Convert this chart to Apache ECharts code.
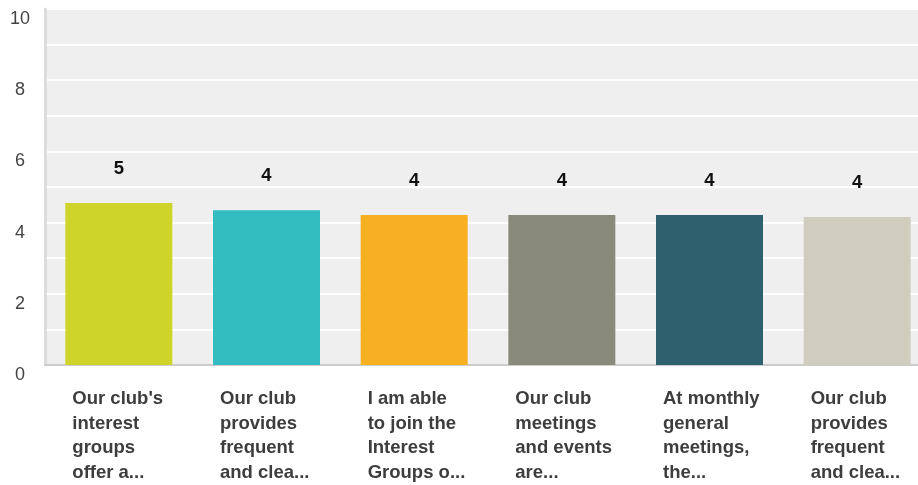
<!DOCTYPE html>
<html>
<head>
<meta charset="utf-8">
<script src="https://cdn.jsdelivr.net/npm/echarts@6/dist/echarts.min.js"></script>
<style>
html,body{margin:0;padding:0;background:#fff;}
#c{width:918px;height:485px;}
</style>
</head>
<body>
<div id="c"></div>
<script>
const categories = [
  "Our club's\ninterest\ngroups\noffer a...",
  "Our club\nprovides\nfrequent\nand clea...",
  "I am able\nto join the\nInterest\nGroups o...",
  "Our club\nmeetings\nand events\nare...",
  "At monthly\ngeneral\nmeetings,\nthe...",
  "Our club\nprovides\nfrequent\nand clea..."
];
const values = [4.55, 4.35, 4.21, 4.21, 4.21, 4.16];
const barColors = ['#cfd42a', '#33bdc0', '#f6b021', '#8a8a7a', '#2f606e', '#d0cdbf'];

const chart = echarts.init(document.getElementById('c'));
chart.setOption({
  animation: false,
  backgroundColor: '#ffffff',
  grid: {
    left: 45, right: -13, top: 9, bottom: 120,
    outerBoundsMode: 'none',
    containLabel: false,
    show: true, backgroundColor: '#efefef', borderWidth: 0
  },
  xAxis: {
    type: 'category',
    data: categories,
    axisLine: { show: true, lineStyle: { color: '#cccccc', width: 2 } },
    axisTick: { show: false },
    axisLabel: {
      interval: 0,
      margin: 22,
      align: 'center',
      formatter: function (v) {
        return v.split('\n').map(function (l) { return '{a|' + l + '}'; }).join('\n');
      },
      rich: {
        a: {
          width: 93, align: 'left',
          fontSize: 18.5, fontWeight: 'bold', color: '#3d3d3d',
          fontFamily: 'Liberation Sans, Arial, sans-serif',
          lineHeight: 24.5
        }
      }
    }
  },
  yAxis: {
    type: 'value',
    min: 0, max: 10, interval: 2,
    axisLine: { show: true, lineStyle: { color: '#dddddd', width: 3 } },
    axisTick: { show: false },
    axisLabel: {
      margin: 25,
      align: 'center',
      verticalAlign: 'top',
      padding: [1, 0, 0, 0],
      fontSize: 18, color: '#444444',
      fontFamily: 'Liberation Sans, Arial, sans-serif'
    },
    splitLine: { show: true, lineStyle: { color: '#ffffff', width: 2 } },
    minorTick: { show: false, splitNumber: 2 },
    minorSplitLine: { show: true, lineStyle: { color: '#ffffff', width: 2 } }
  },
  series: [{
    type: 'bar',
    data: values.map(function (v, i) { return { value: v, itemStyle: { color: barColors[i] } }; }),
    barWidth: 107,
    label: {
      show: true,
      position: 'top',
      distance: 24.5,
      fontSize: 18.5, fontWeight: 'bold', color: '#111111',
      fontFamily: 'Liberation Sans, Arial, sans-serif',
      formatter: function (p) { return String(Math.round(p.value)); }
    }
  }]
});
</script>
</body>
</html>
